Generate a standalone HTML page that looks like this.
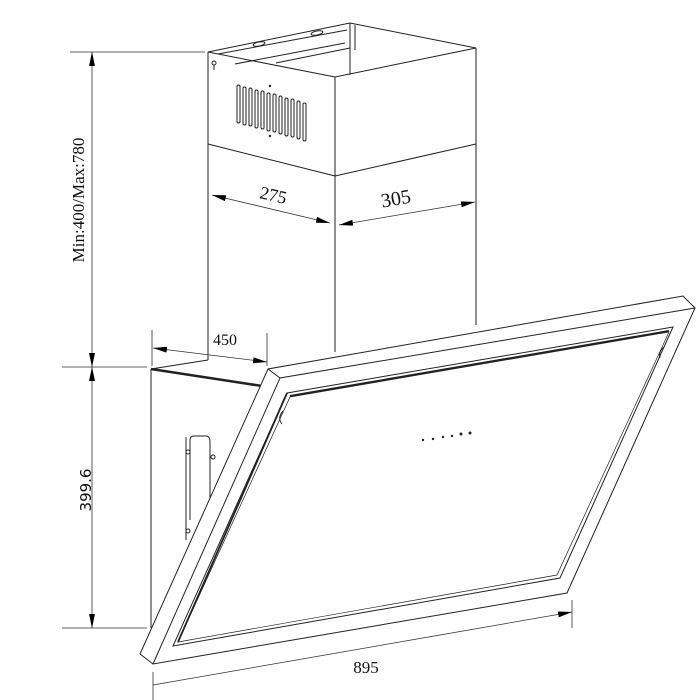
<!DOCTYPE html>
<html><head><meta charset="utf-8"><style>
html,body{margin:0;padding:0;background:#fff;}
svg{display:block;}
text{font-family:"Liberation Serif",serif;fill:#111;}
</style></head><body>
<svg width="700" height="700" viewBox="0 0 700 700" xmlns="http://www.w3.org/2000/svg">
<defs>
<marker id="ah" viewBox="0 0 14 6" refX="14" refY="3" markerWidth="14" markerHeight="6" orient="auto-start-reverse" markerUnits="userSpaceOnUse">
<path d="M0,0 L14,3 L0,6 z" fill="#000"/></marker>
</defs>
<g fill="none" stroke="#222" stroke-width="1">
<path d="M208,52 L350,23 L476,48 L335,77 Z" fill="#fff"/>
<line x1="208" y1="52" x2="208" y2="360"/>
<line x1="335" y1="77" x2="335" y2="352"/>
<line x1="476" y1="48" x2="476" y2="325"/>
<line x1="208" y1="144" x2="335" y2="176"/>
<line x1="335" y1="176" x2="476" y2="144"/>
<line x1="350" y1="23" x2="350" y2="75"/>
<line x1="355" y1="25" x2="355" y2="50"/>
<line x1="218" y1="54" x2="347" y2="30"/>
<line x1="235" y1="64" x2="345" y2="43"/>
<line x1="276" y1="63" x2="350" y2="48"/>
<ellipse cx="259" cy="44" rx="6" ry="2" transform="rotate(-11 259 44)"/>
<ellipse cx="317" cy="33" rx="6" ry="2" transform="rotate(-11 317 33)"/>
<circle cx="214" cy="63" r="2"/><line x1="214" y1="65" x2="214" y2="70"/>
</g>
<g fill="#fff" stroke="#222" stroke-width="1">
<rect x="237" y="85" width="3" height="38" rx="1.5"/>
<rect x="243" y="87" width="3" height="38" rx="1.5"/>
<rect x="249" y="88" width="3" height="38" rx="1.5"/>
<rect x="255" y="90" width="3" height="38" rx="1.5"/>
<rect x="261" y="91" width="3" height="38" rx="1.5"/>
<rect x="267" y="93" width="3" height="38" rx="1.5"/>
<rect x="273" y="94" width="3" height="38" rx="1.5"/>
<rect x="279" y="96" width="3" height="38" rx="1.5"/>
<rect x="285" y="98" width="3" height="38" rx="1.5"/>
<rect x="291" y="99" width="3" height="38" rx="1.5"/>
<rect x="297" y="101" width="3" height="38" rx="1.5"/>
<rect x="303" y="103" width="3" height="38" rx="1.5"/>
</g>
<g fill="#222"><circle cx="270" cy="86" r="1.2"/><circle cx="270" cy="136" r="1.2"/></g>
<g fill="none" stroke="#222" stroke-width="1">
<line x1="151" y1="369" x2="151" y2="628"/>
<path d="M151,369 L262,386" stroke-width="2.5"/>
<line x1="151" y1="369" x2="208" y2="360"/>
<path d="M186,437 L186,540"/>
<path d="M190,520 L190,440 Q190,436 194,436 L207,436 Q210,437 210,442 L210,498"/>
<circle cx="188" cy="452" r="2"/><circle cx="213" cy="457" r="2"/><circle cx="188" cy="531" r="2"/>
<path d="M140,654 L268,369 L683,296 L695,308 L567,593 L153,664 Z" fill="#fff"/>
<path d="M153,664 L280,378 L695,308"/>
<line x1="268" y1="369" x2="280" y2="378"/>
<path d="M287,393 L673,327 L560,578 L173,646 Z"/>
<path d="M290,397 L669,332 L557,575 L178,642 Z" stroke-width="0.7"/>
<line x1="290" y1="396" x2="669" y2="331" stroke-width="2"/>
<line x1="287" y1="393" x2="178" y2="642" stroke-width="1.8"/>
<path d="M283,411 Q277,418 282,424"/>
<path d="M664,347 Q658,352 660,358"/>
</g>
<g fill="#222">
<circle cx="423" cy="440" r="1.2"/><circle cx="433" cy="439" r="1.2"/><circle cx="443" cy="437" r="1.2"/><circle cx="452" cy="436" r="1.2"/><circle cx="461" cy="434" r="1.5"/><circle cx="470" cy="433" r="1.5"/>
</g>
<g stroke="#333" stroke-width="0.8" fill="none">
<line x1="70" y1="52" x2="205" y2="52"/>
<line x1="62" y1="367" x2="147" y2="367"/>
<line x1="62" y1="628" x2="147" y2="628"/>
<line x1="92" y1="52" x2="92" y2="367" marker-start="url(#ah)" marker-end="url(#ah)"/>
<line x1="92" y1="367" x2="92" y2="628" marker-start="url(#ah)" marker-end="url(#ah)"/>
<line x1="152" y1="330" x2="152" y2="366"/>
<line x1="267" y1="333" x2="267" y2="366"/>
<line x1="153" y1="348" x2="267" y2="362" marker-start="url(#ah)" marker-end="url(#ah)"/>
<line x1="212" y1="195" x2="330" y2="223" marker-start="url(#ah)" marker-end="url(#ah)"/>
<line x1="339" y1="225" x2="475" y2="202" marker-start="url(#ah)" marker-end="url(#ah)"/>
<line x1="572" y1="600" x2="572" y2="628"/>
<line x1="153" y1="672" x2="153" y2="700"/>
<line x1="153" y1="685" x2="572" y2="612" marker-end="url(#ah)"/>
</g>
<text x="0" y="0" font-size="17" text-anchor="middle" transform="translate(84,200) rotate(-90)">Min:400/Max:780</text>
<text x="0" y="0" font-size="15" text-anchor="middle" style="font-family:'DejaVu Sans',sans-serif" transform="translate(91,490) rotate(-90)">399.6</text>
<text x="225" y="345" font-size="16" text-anchor="middle">450</text>
<text x="0" y="0" font-size="18" text-anchor="middle" transform="translate(272,201) rotate(13)">275</text>
<text x="0" y="0" font-size="20" text-anchor="middle" transform="translate(397,205) rotate(-10)">305</text>
<text x="366" y="673" font-size="17" text-anchor="middle">895</text>
</svg>
</body></html>
